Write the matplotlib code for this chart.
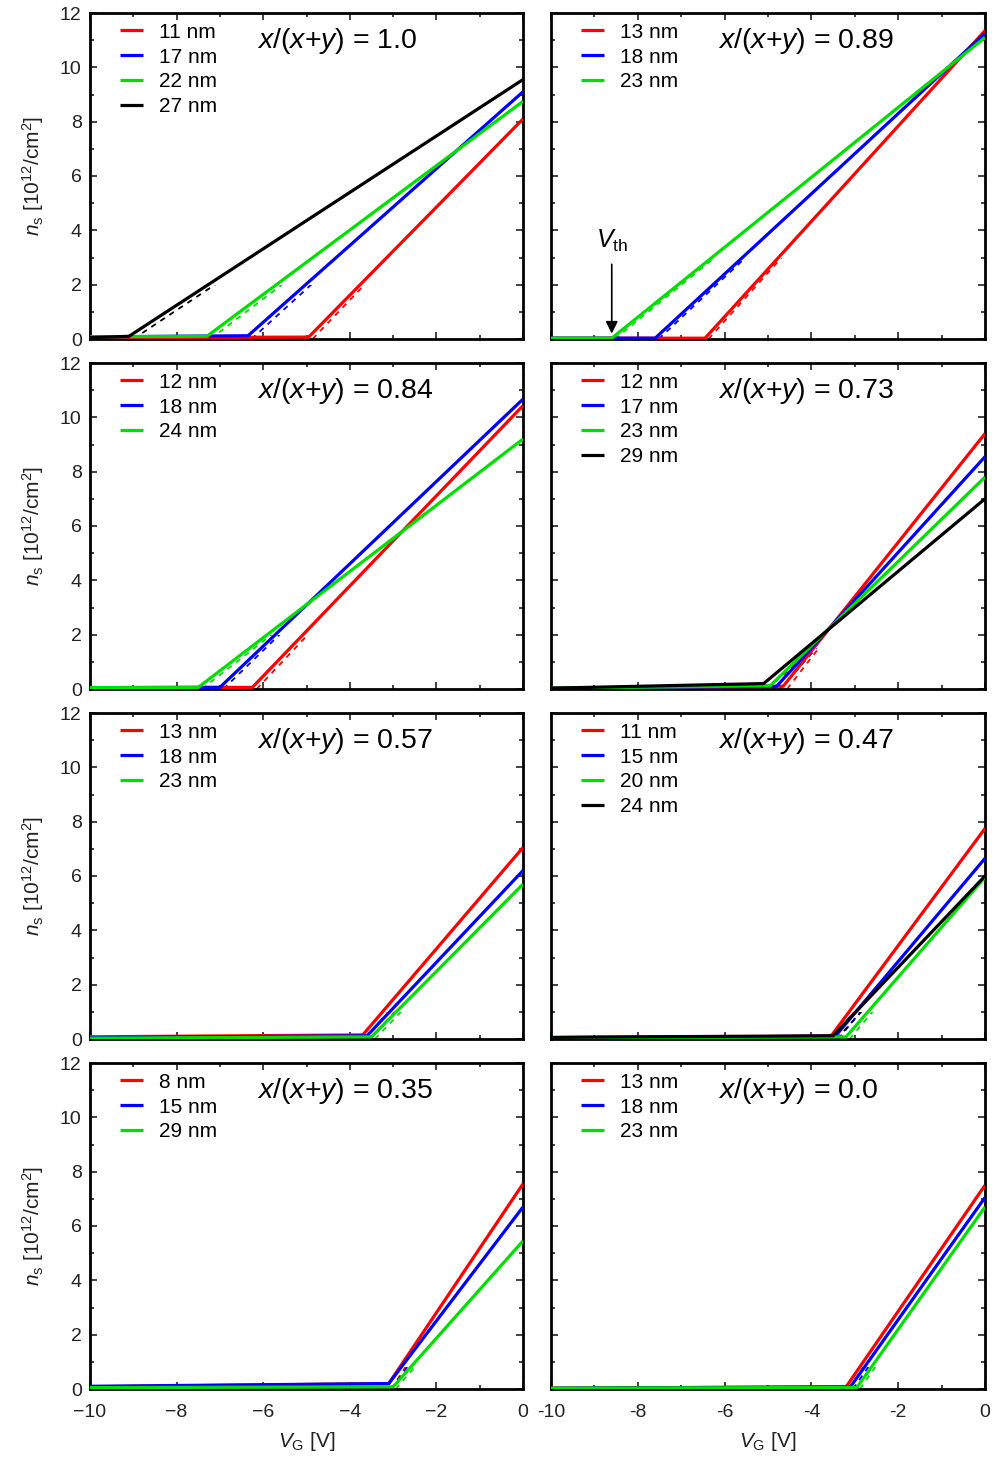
import matplotlib
matplotlib.use('Agg')
import matplotlib.pyplot as plt
from matplotlib.patches import Rectangle
from matplotlib.ticker import MultipleLocator

plt.rcParams['font.family'] = ['Liberation Sans', 'DejaVu Sans']
plt.rcParams['mathtext.fontset'] = 'custom'
plt.rcParams['mathtext.rm'] = 'Liberation Sans'
plt.rcParams['mathtext.it'] = 'Liberation Sans:italic'

RED, BLUE, GREEN, BLACK = '#ff0000', '#0000ff', '#00e000', '#000000'

# composition x/(x+y) of each panel, row by row
compositions = ['1.0', '0.89', '0.84', '0.73', '0.57', '0.47', '0.35', '0.0']

# thickness labels per panel
thick_labels = [
    ['11 nm', '17 nm', '22 nm', '27 nm'],
    ['13 nm', '18 nm', '23 nm'],
    ['12 nm', '18 nm', '24 nm'],
    ['12 nm', '17 nm', '23 nm', '29 nm'],
    ['13 nm', '18 nm', '23 nm'],
    ['11 nm', '15 nm', '20 nm', '24 nm'],
    ['8 nm', '15 nm', '29 nm'],
    ['13 nm', '18 nm', '23 nm'],
]
curve_colors = [
    [RED, BLUE, GREEN, BLACK],
    [RED, BLUE, GREEN],
    [RED, BLUE, GREEN],
    [RED, BLUE, GREEN, BLACK],
    [RED, BLUE, GREEN],
    [RED, BLUE, GREEN, BLACK],
    [RED, BLUE, GREEN],
    [RED, BLUE, GREEN],
]

# onset voltage of each curve (V)
onset_v = [
    [-4.95, -6.35, -7.3, -9.1],
    [-6.45, -7.6, -8.6],
    [-6.25, -7.0, -7.5],
    [-4.65, -4.8, -4.95, -5.1],
    [-3.7, -3.6, -3.5],
    [-3.55, -3.45, -3.2, -3.5],
    [-3.1, -3.1, -3.0],
    [-3.2, -3.1, -2.95],
]
# n_s at V = -10 and at the onset (10^12/cm^2)
base_left = [
    [0.05, 0.08, 0.08, 0.05],
    [0.03, 0.03, 0.03],
    [0.05, 0.05, 0.05],
    [0.03, 0.03, 0.03, 0.03],
    [0.08, 0.05, 0.03],
    [0.05, 0.05, 0.05, 0.06],
    [0.08, 0.1, 0.05],
    [0.03, 0.03, 0.03],
]
base_onset = [
    [0.07, 0.12, 0.1, 0.1],
    [0.03, 0.03, 0.03],
    [0.06, 0.06, 0.06],
    [0.1, 0.1, 0.12, 0.2],
    [0.15, 0.12, 0.08],
    [0.1, 0.1, 0.08, 0.12],
    [0.2, 0.2, 0.08],
    [0.08, 0.08, 0.06],
]
# n_s at V = 0
end_ns = [
    [8.1, 9.1, 8.75, 9.55],
    [11.35, 11.25, 11.1],
    [10.43, 10.67, 9.2],
    [9.4, 8.55, 7.8, 7.0],
    [7.05, 6.2, 5.7],
    [7.75, 6.65, 5.95, 6.0],
    [7.55, 6.7, 5.45],
    [7.5, 7.05, 6.7],
]
# x-intercept of the dashed linear fits
fit_v0 = [
    [-4.86, -6.27, -7.22, -9.0],
    [-6.37, -7.52, -8.53],
    [-6.15, -6.92, -7.42],
    [-4.56, -4.72, -4.88, -5.03],
    [-3.63, -3.53, -3.42],
    [-3.48, -3.38, -3.12, -3.42],
    [-3.04, -3.04, -2.94],
    [-3.14, -3.04, -2.88],
]
# height up to which the dashed fits stand apart from the data
fit_top = [2.0, 3.0, 2.0, 1.5, 1.0, 1.0, 0.8, 0.8]

fig = plt.figure(figsize=(9.99, 14.61), dpi=100)

W, H = 999, 1461
col_left = [90, 551]
col_width = [433, 434]
row_top = [13, 363, 713, 1063]
row_height = 326

axes = []
for i in range(8):
    r, c = divmod(i, 2)
    rect = [col_left[c] / W, 1 - (row_top[r] + row_height) / H,
            col_width[c] / W, row_height / H]
    ax = fig.add_axes(rect)
    axes.append(ax)

    for j, lab in enumerate(thick_labels[i]):
        col = curve_colors[i][j]
        ax.plot([-10, onset_v[i][j], 0],
                [base_left[i][j], base_onset[i][j], end_ns[i][j]],
                color=col, lw=2.3, label=lab, solid_capstyle='butt', zorder=3)
        fit_line, = ax.plot([fit_v0[i][j], 0], [0, end_ns[i][j]],
                            color=col, lw=1.3, ls=(0, (3, 3)), zorder=2)
        clip = Rectangle((-10, 0), 10, fit_top[i], transform=ax.transData)
        fit_line.set_clip_path(clip)

    ax.set_xlim(-10, 0)
    ax.set_ylim(0, 12)
    ax.xaxis.set_major_locator(MultipleLocator(2))
    ax.xaxis.set_minor_locator(MultipleLocator(1))
    ax.yaxis.set_major_locator(MultipleLocator(2))
    ax.yaxis.set_minor_locator(MultipleLocator(1))
    ax.tick_params(which='both', direction='in', top=True, right=True,
                   labelsize=14, width=1.2, colors='#222222')
    ax.tick_params(axis='y', pad=6)
    ax.tick_params(axis='x', pad=11)
    ax.tick_params(which='major', length=5)
    ax.tick_params(which='minor', length=3)
    for sp in ax.spines.values():
        sp.set_linewidth(2.0)

    if c == 1:
        ax.tick_params(labelleft=False)
    else:
        ax.set_ylabel(r'$n_\mathrm{s}$ [10$^{12}$/cm$^2$]', fontsize=15,
                      labelpad=10, color='#222222')
    if r < 3:
        ax.tick_params(labelbottom=False)
    else:
        ax.set_xlabel(r'$V_\mathrm{G}$ [V]', fontsize=15, labelpad=6,
                      color='#222222')
        if c == 1:
            ax.set_xticks([-10, -8, -6, -4, -2, 0])
            ax.set_xticklabels(['-10', '-8', '-6', '-4', '-2', '0'])

    ax.legend(loc='upper left', bbox_to_anchor=(0.035, 1.015), frameon=False,
              fontsize=15, handlelength=1.1, handletextpad=0.8,
              labelspacing=0.28, borderaxespad=0.3)
    ax.text(0.385, 0.915, r'$x$/($x$+$y$) = ' + compositions[i],
            transform=ax.transAxes, fontsize=20.5, ha='left', va='center')

# threshold voltage marker in the x/(x+y) = 0.89 panel
vth_ax = axes[1]
vth_ax.annotate('', xy=(-8.6, 0.2), xytext=(-8.6, 2.75),
                arrowprops=dict(arrowstyle='-|>', color='black', lw=1.2,
                                mutation_scale=18, shrinkA=0, shrinkB=0))
vth_ax.text(-8.6, 3.6, r'$V_\mathrm{th}$', fontsize=18, ha='center', va='center')

fig.savefig('out.png', dpi=100)
